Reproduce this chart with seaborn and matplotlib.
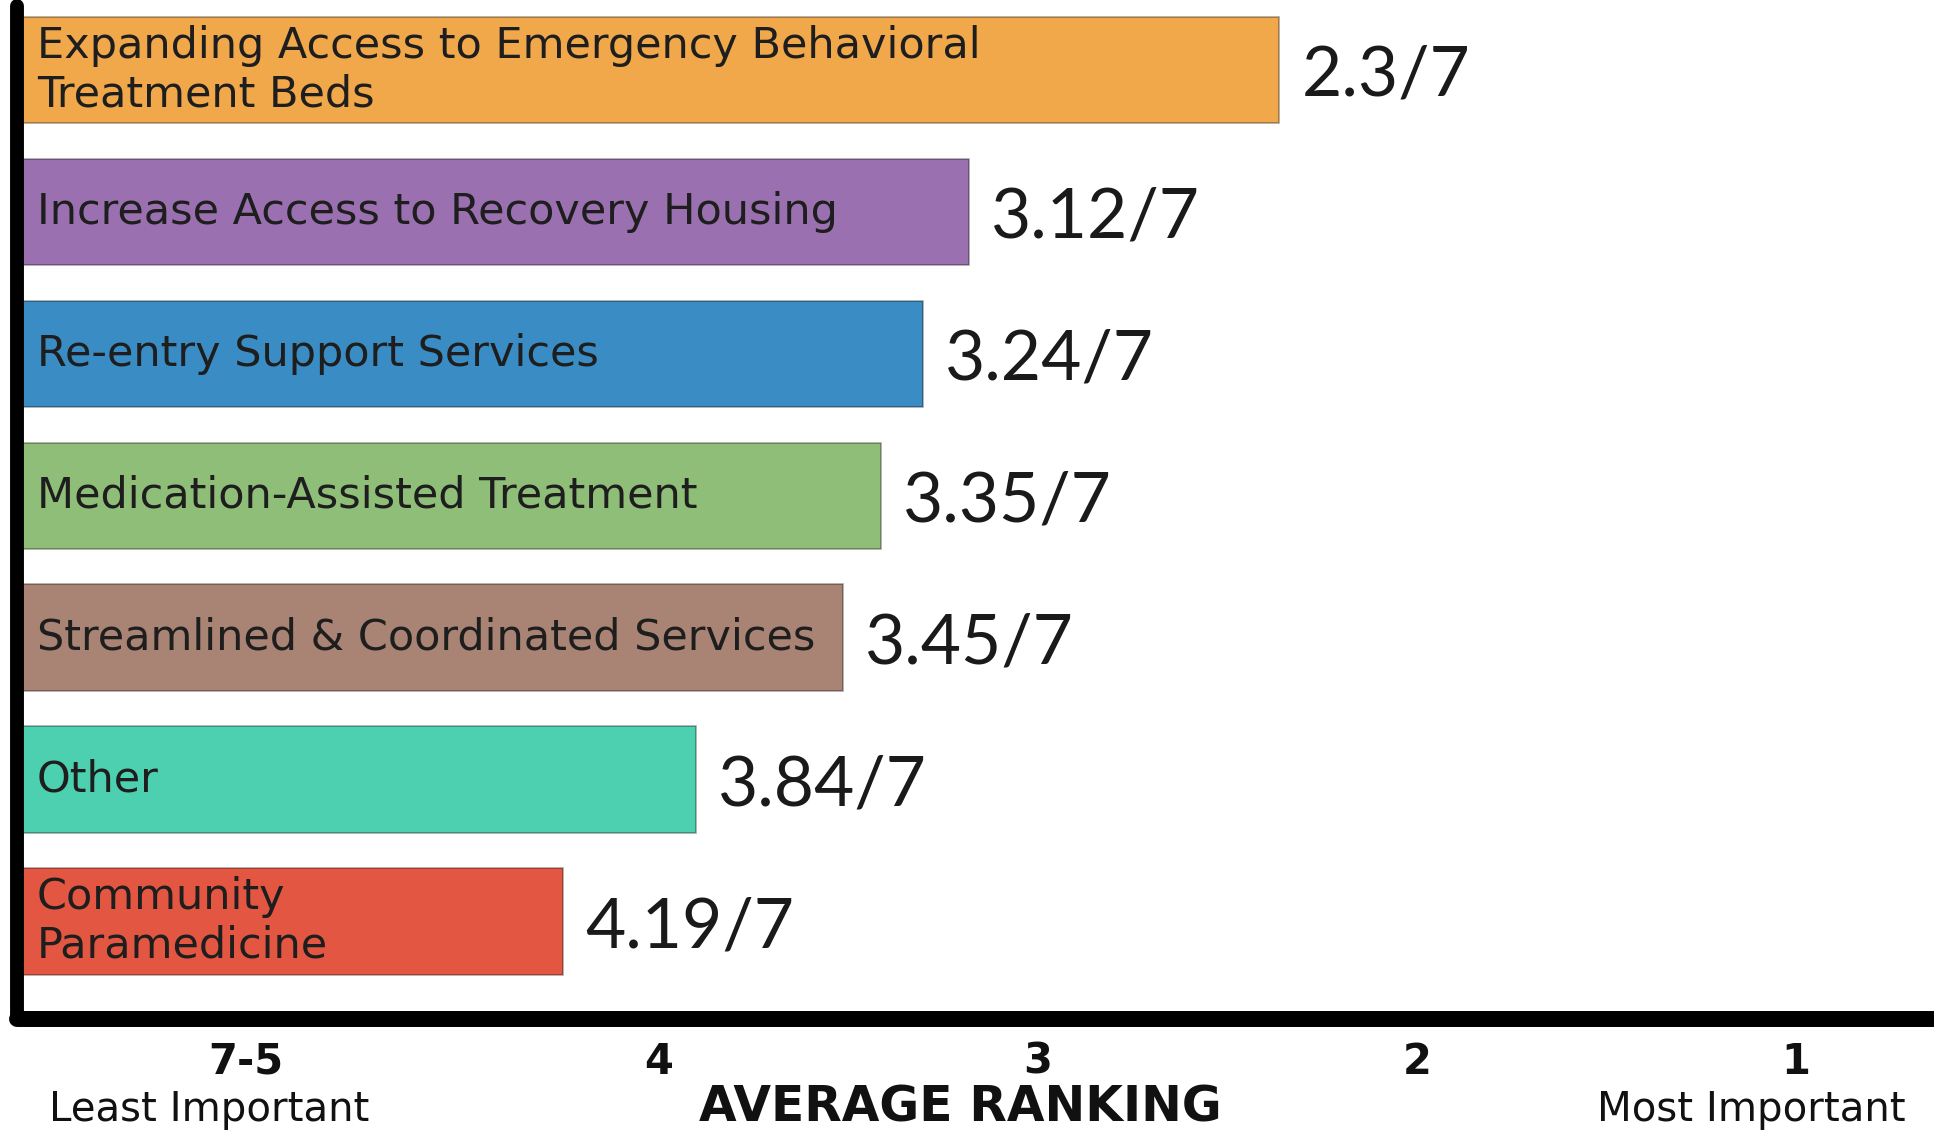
import pandas as pd
import seaborn as sns
import matplotlib.pyplot as plt
from matplotlib.transforms import ScaledTranslation

# average ranking per priority (1 = most important, 7 = least)
categories = [
    "Expanding Access to Emergency Behavioral\nTreatment Beds",
    "Increase Access to Recovery Housing",
    "Re-entry Support Services",
    "Medication-Assisted Treatment",
    "Streamlined & Coordinated Services",
    "Other",
    "Community\nParamedicine",
]
avg_rank = [2.3, 3.12, 3.24, 3.35, 3.45, 3.84, 4.19]
bar_colors = ["#F0A84B", "#9B70B0", "#3A8CC4", "#8FBE78", "#A98374", "#4CD0B0", "#E35742"]

tick_ranks = [5.09, 4, 3, 2, 1]
tick_labels = ["7-5", "4", "3", "2", "1"]

# rank value that sits at the left edge of the chart (bars grow towards rank 1)
BASE = 5.63

df = pd.DataFrame({"category": categories, "rank": avg_rank})
df["length"] = BASE - df["rank"]

sns.set_theme(style="white")
plt.rcParams["font.family"] = ["DejaVu Sans"]

fig = plt.figure(figsize=(19.34, 11.31), dpi=100)
ax = fig.add_axes([17 / 1934, 0.0993, 1 - 17 / 1934, 0.8954])

sns.barplot(data=df, x="length", y="category", hue="category", palette=bar_colors,
            orient="h", width=0.75, saturation=1, legend=False, ax=ax,
            edgecolor=(0, 0, 0, 0.35), linewidth=1.2)

ax.set_xlim(0, (1934 - 17) / 379.1)
ax.set_ylim(6.684, -0.45)
ax.set_yticks([])
ax.set_ylabel("")
ax.set_xlabel("")

# category names inside the bars, scores at the bar ends
for i, (name, length, v) in enumerate(zip(categories, df["length"], avg_rank)):
    ax.annotate(name, xy=(0, i), xytext=(20, 0), textcoords="offset pixels",
                va="center", ha="left", fontsize=31, color="#1e1e1e",
                linespacing=1.2)
    ax.annotate(f"{v}/7", xy=(length, i), xytext=(22, -6), textcoords="offset pixels",
                va="center", ha="left", fontsize=50, family=["Lato", "DejaVu Sans"],
                color="#1a1a1a")

# spines
sns.despine(ax=ax, top=True, right=True)
ax.spines["left"].set_linewidth(10)
ax.spines["bottom"].set_linewidth(11.5)
for s in ("left", "bottom"):
    ax.spines[s].set_color("black")
    ax.spines[s].set_capstyle("round")

# x ticks
ax.set_xticks([BASE - r for r in tick_ranks])
ax.set_xticklabels(tick_labels, fontsize=30, fontweight="bold", color="#111111")
ax.tick_params(axis="x", length=0, pad=16)
offset = ScaledTranslation(24 / 100, 0, fig.dpi_scale_trans)
for lab in ax.get_xticklabels():
    lab.set_transform(lab.get_transform() + offset)

fig.text(960 / 1934, 1 - 1107 / 1131, "AVERAGE RANKING", ha="center", va="center",
         fontsize=35, fontweight="bold", color="#111111")
fig.text(49 / 1934, 1 - 1110 / 1131, "Least Important", ha="left", va="center",
         fontsize=29, color="#111111")
fig.text(1906 / 1934, 1 - 1110 / 1131, "Most Important", ha="right", va="center",
         fontsize=29, color="#111111")

fig.savefig("out.png", dpi=100)
